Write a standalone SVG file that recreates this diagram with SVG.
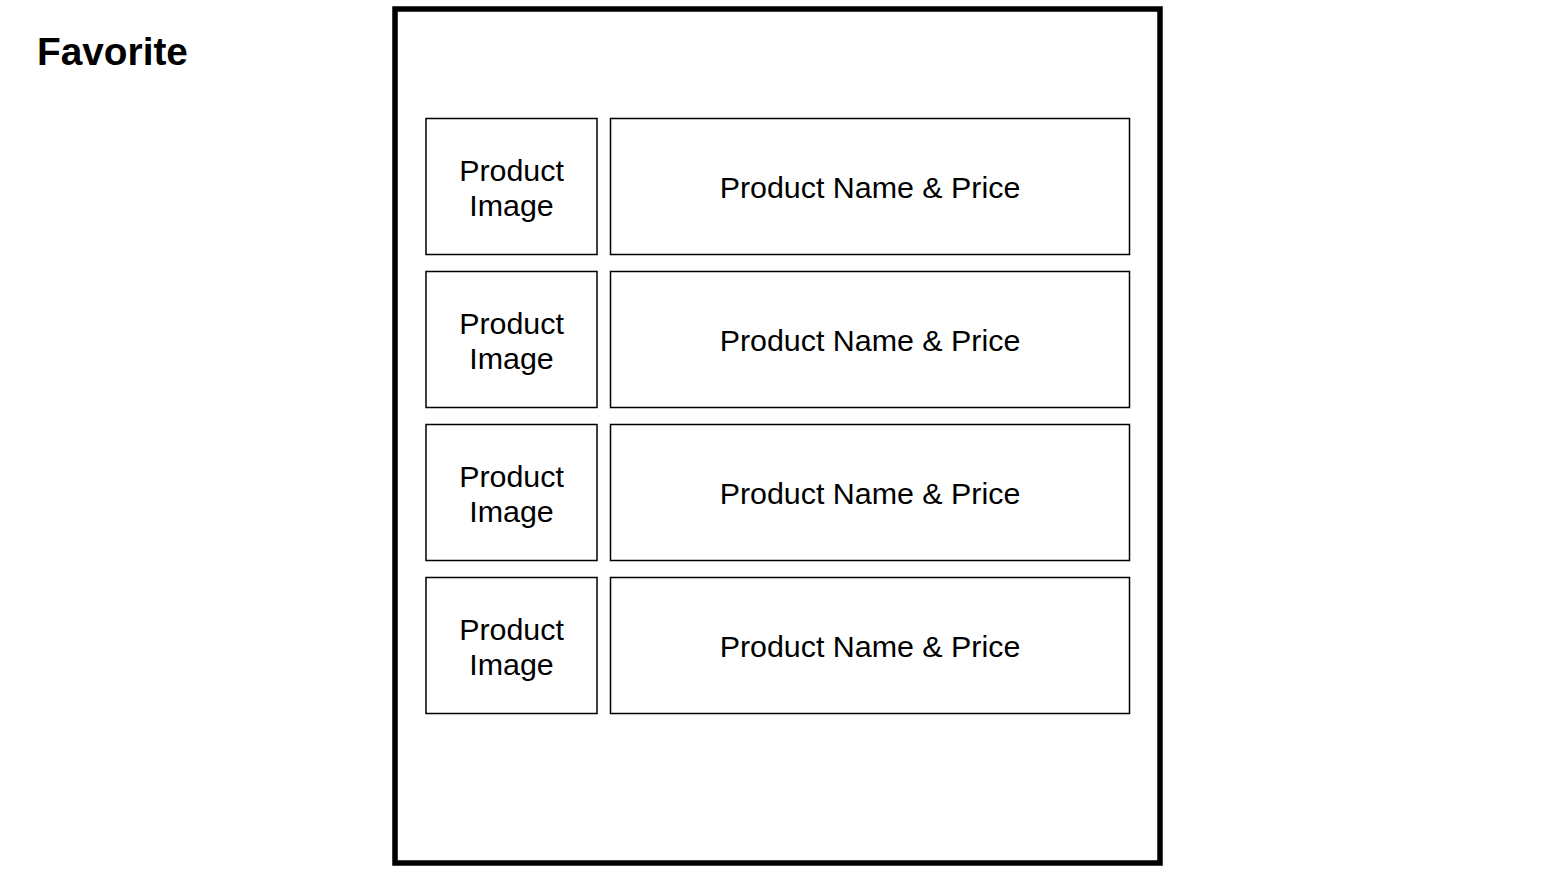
<svg xmlns="http://www.w3.org/2000/svg" width="1550" height="874" viewBox="0 0 1550 874">
<style>
.frame{fill:#fff;stroke:#000;stroke-width:5.5}
.box{fill:#fff;stroke:#000;stroke-width:1.5}
.t{font-family:"Liberation Sans",Arial,sans-serif;font-size:30.4px;fill:#000;text-anchor:middle}
.title{font-family:"Liberation Sans",Arial,sans-serif;font-size:38.8px;font-weight:bold;fill:#000}
</style>
<rect width="1550" height="874" fill="#fff"/>
<text class="title" x="37" y="65">Favorite</text>
<g id="frame"><rect class="frame" x="395" y="9" width="765" height="854"/></g>
<g id="img1"><rect class="box" x="426" y="118.5" width="171" height="136"/><text class="t" x="511.5" y="180.5">Product</text><text class="t" x="511.5" y="215.5">Image</text></g>
<g id="name1"><rect class="box" x="610.5" y="118.5" width="519" height="136"/><text class="t" x="870" y="197.5">Product Name &amp; Price</text></g>
<g id="img2"><rect class="box" x="426" y="271.5" width="171" height="136"/><text class="t" x="511.5" y="333.5">Product</text><text class="t" x="511.5" y="368.5">Image</text></g>
<g id="name2"><rect class="box" x="610.5" y="271.5" width="519" height="136"/><text class="t" x="870" y="350.5">Product Name &amp; Price</text></g>
<g id="img3"><rect class="box" x="426" y="424.5" width="171" height="136"/><text class="t" x="511.5" y="486.5">Product</text><text class="t" x="511.5" y="521.5">Image</text></g>
<g id="name3"><rect class="box" x="610.5" y="424.5" width="519" height="136"/><text class="t" x="870" y="503.5">Product Name &amp; Price</text></g>
<g id="img4"><rect class="box" x="426" y="577.5" width="171" height="136"/><text class="t" x="511.5" y="639.5">Product</text><text class="t" x="511.5" y="674.5">Image</text></g>
<g id="name4"><rect class="box" x="610.5" y="577.5" width="519" height="136"/><text class="t" x="870" y="656.5">Product Name &amp; Price</text></g>
<g id="connectors"/>
</svg>
